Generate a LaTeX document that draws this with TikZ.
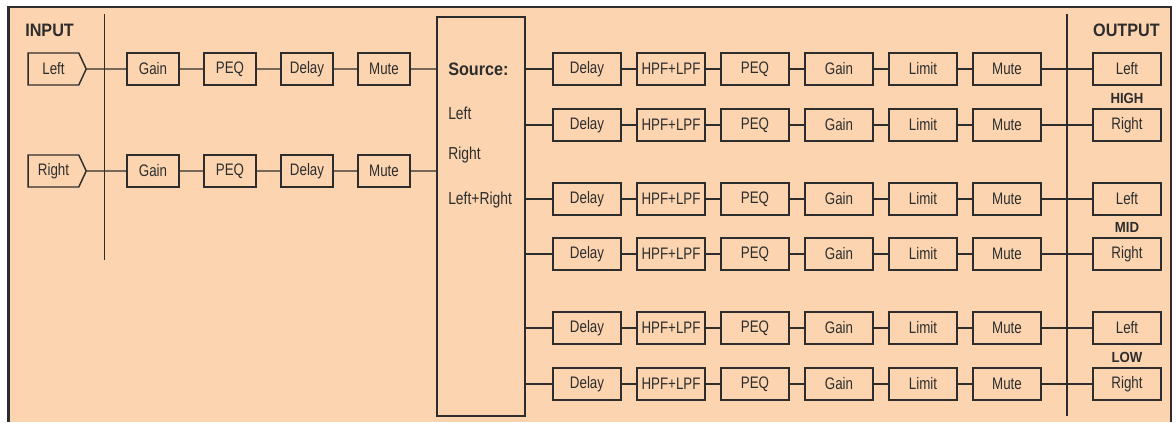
\documentclass[tikz,border=0pt]{standalone}
\usepackage{fontspec}
\setmainfont[FakeStretch=0.8]{Liberation Sans}
\newfontfamily\headfont[FakeStretch=0.9]{Liberation Sans}
\usetikzlibrary{shapes.symbols}
\definecolor{panelPeach}{RGB}{252,213,176}
\definecolor{inkGray}{RGB}{45,45,45}

\begin{document}
\begin{tikzpicture}[x=0.75pt, y=0.75pt, yscale=-1]
            \tikzstyle{blk} = [draw=inkGray, line width=1.1pt, minimum width=39pt, minimum height=24pt, inner sep=0pt, text=inkGray, font=\fontsize{12.5}{14}\selectfont]
            \tikzstyle{wblk} = [blk, minimum width=51pt]
            \tikzstyle{inport} = [blk, signal, signal to=east, signal pointer angle=130, minimum width=43.5pt]
            \tikzstyle{wire} = [draw=inkGray, line width=1.1pt]
            \tikzstyle{head} = [font=\headfont\bfseries\fontsize{13.5}{16}\selectfont, text=inkGray, inner sep=0pt]
            \tikzstyle{band} = [font=\headfont\bfseries\fontsize{11}{13}\selectfont, text=inkGray, inner sep=0pt]
            \tikzstyle{srctxt} = [anchor=west, inner sep=0pt, text=inkGray, font=\fontsize{13}{15}\selectfont]

            \useasboundingbox (0,0) rectangle (1176,422);

            % Panel
            \fill[panelPeach] (8.5,7) rectangle (1171,422);
            \draw[inkGray, line width=2pt] (8.5,422) -- (8.5,7) -- (1171,7) -- (1171,422);

            % Input side
            \node[head, anchor=west] (inHead) at (25,30) {INPUT};
            \node[inport] (inL) at (53.5,69) {Left};
            \node[inport] (inR) at (53.5,171) {Right};
            \coordinate (itop) at (104.5,14);
            \coordinate (ibot) at (104.5,260);
            \draw[wire] (itop) -- (ibot);

            % Input chains
            \node[blk] (gL) at (153,69) {Gain};
            \node[blk] (qL) at (230,69) {PEQ};
            \node[blk] (dL) at (307,69) {Delay};
            \node[blk] (mL) at (384,69) {Mute};
            \node[blk] (gR) at (153,171) {Gain};
            \node[blk] (qR) at (230,171) {PEQ};
            \node[blk] (dR) at (307,171) {Delay};
            \node[blk] (mR) at (384,171) {Mute};

            % Source
            \node[draw=inkGray, line width=1.1pt, minimum width=66pt, minimum height=299.25pt, inner sep=0pt] (src) at (481,216.5) {};
            \node[srctxt, font=\headfont\bfseries\fontsize{13.5}{16}\selectfont] (sHead) at (448,69) {Source:};
            \node[srctxt] (sL) at (448,113) {Left};
            \node[srctxt] (sR) at (448,155) {Right};
            \node[srctxt] (sLR) at (448,200) {Left+Right};

            \draw[wire] (inL) -- (gL) -- (qL) -- (dL) -- (mL) -- (src.west |- mL);
            \draw[wire] (inR) -- (gR) -- (qR) -- (dR) -- (mR) -- (src.west |- mR);

            % Output side
            \node[head, anchor=east] (outHead) at (1160,30) {OUTPUT};
            \coordinate (otop) at (1067,14);
            \coordinate (obot) at (1067,416);
            \draw[wire] (otop) -- (obot);
            \node[band] (hiLbl) at (1127,98) {HIGH};
            \node[band] (midLbl) at (1127,227) {MID};
            \node[band] (loLbl) at (1127,357) {LOW};

            % Output chains
            \foreach \r/\y/\side in {1/69/Left, 2/125/Right, 3/199/Left, 4/254/Right, 5/328/Left, 6/384/Right} {
                \node[wblk] (d\r) at (587,\y) {Delay};
                \node[wblk] (f\r) at (671,\y) {HPF+LPF};
                \node[wblk] (p\r) at (755,\y) {PEQ};
                \node[wblk] (g\r) at (839,\y) {Gain};
                \node[wblk] (l\r) at (923,\y) {Limit};
                \node[wblk] (m\r) at (1007,\y) {Mute};
                \node[wblk] (o\r) at (1127,\y) {\side};
                \draw[wire] (src.east |- d\r) -- (d\r) -- (f\r) -- (p\r) -- (g\r) -- (l\r) -- (m\r) -- (o\r);
            }
        \end{tikzpicture}
\end{document}
